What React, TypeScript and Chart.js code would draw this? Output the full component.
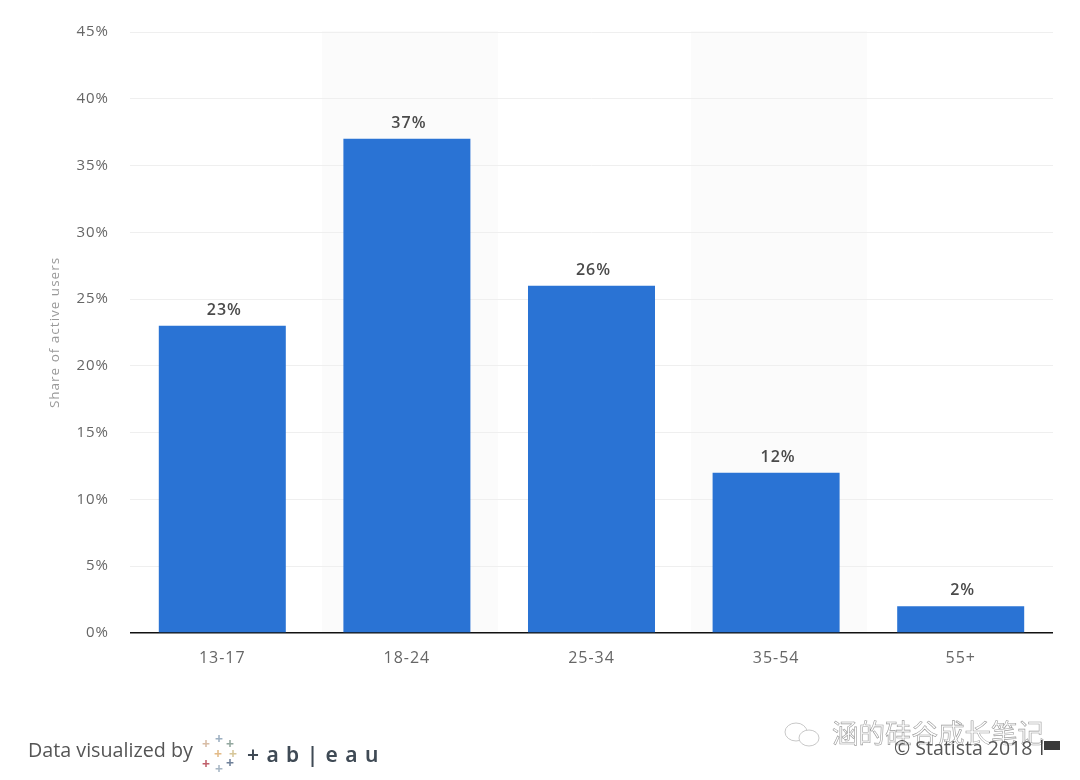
import React, { useEffect, useRef } from "react";
import { Chart, registerables } from "chart.js";

Chart.register(...registerables);

const categories = ["13-17", "18-24", "25-34", "35-54", "55+"];
const shares = [23, 37, 26, 12, 2];
const axisTitle = "Share of active users";
const shadedCategories = ["18-24", "35-54"];
const FONT = '"Open Sans", sans-serif';

const bandPlugin = {
  id: "bands",
  beforeDraw(chart: any) {
    const { ctx, chartArea, scales } = chart;
    (ctx as any).letterSpacing = "1px";
    ctx.save();
    ctx.fillStyle = "#fbfbfb";
    shadedCategories.forEach((c) => {
      const mid = scales.x.getPixelForValue(categories.indexOf(c));
      ctx.fillRect(mid - 85, chartArea.top - 1, 176, chartArea.bottom - chartArea.top + 1);
    });
    ctx.restore();
  },
};

const labelPlugin = {
  id: "valueLabels",
  afterDatasetsDraw(chart: any) {
    const { ctx } = chart;
    const meta = chart.getDatasetMeta(0);
    ctx.save();
    ctx.font = `600 16px ${FONT}`;
    ctx.fillStyle = "#4a4a4a";
    ctx.textAlign = "center";
    ctx.textBaseline = "alphabetic";
    meta.data.forEach((bar: any, i: number) => {
      ctx.fillText(`${shares[i]}%`, bar.x + 2, bar.y - 11);
    });
    ctx.restore();
  },
};

export default function App() {
  const ref = useRef<HTMLCanvasElement>(null);
  useEffect(() => {
    document.body.style.margin = "0";
    document.body.style.background = "#fff";
    const chart = new Chart(ref.current!, {
      type: "bar",
      data: {
        labels: categories,
        datasets: [
          {
            data: shares,
            backgroundColor: "#2a73d4",
            categoryPercentage: 0.688,
            barPercentage: 1,
          },
        ],
      },
      plugins: [bandPlugin, labelPlugin],
      options: {
        animation: false,
        responsive: false,
        layout: { padding: { top: 32, right: 27, bottom: 0, left: 0 } },
        plugins: { legend: { display: false }, tooltip: { enabled: false } },
        scales: {
          x: {
            grid: { display: false },
            border: { display: false },
            ticks: { color: "#666", font: { family: FONT, size: 16 }, padding: 8, maxRotation: 0 },
            afterFit(s: any) {
              s.height = 147;
            },
          },
          y: {
            min: 0,
            max: 45,
            grid: {
              color: (c: any) => (c.tick.value === 0 ? "#111" : "#efefef"),
              lineWidth: (c: any) => (c.tick.value === 0 ? 1.5 : 1),
              drawTicks: false,
            },
            border: { display: false },
            ticks: {
              stepSize: 5,
              padding: 21,
              color: "#666",
              font: { family: FONT, size: 15 },
              callback: (v: any) => `${v}%`,
            },
            title: {
              display: true,
              text: axisTitle,
              color: "#999",
              font: { family: FONT, size: 13.5 },
              padding: { top: 47, bottom: 0 },
            },
            afterFit(s: any) {
              s.width = 130;
            },
          },
        },
      },
    });
    return () => chart.destroy();
  }, []);

  const plusColors = ["#d8bda6", "#9db0c2", "#93a89f", "#e3bb88", "#c0606b", "#a7b6c4", "#6f8099", "#d6c699"];
  const plusPos = [
    [6, 7], [19, 2], [30, 7], [18, 17], [6, 27], [19, 32], [30, 26], [33, 17],
  ];

  return (
    <div style={{ position: "relative", width: 1080, height: 780, overflow: "hidden", fontFamily: FONT }}>
      <canvas ref={ref} width={1080} height={780} style={{ display: "block" }} />
      <div style={{ position: "absolute", left: 28, top: 737, fontSize: 19.7, color: "#555", lineHeight: "26px", whiteSpace: "nowrap" }}>
        Data visualized by
      </div>
      <div style={{ position: "absolute", left: 200, top: 736, width: 40, height: 40 }}>
        {plusPos.map((p, i) => (
          <span
            key={i}
            style={{
              position: "absolute",
              left: p[0] - 4,
              top: p[1] - 6,
              fontSize: 14,
              fontWeight: 700,
              lineHeight: "14px",
              color: plusColors[i],
            }}
          >
            +
          </span>
        ))}
      </div>
      <div
        style={{
          position: "absolute",
          left: 247,
          top: 739,
          fontSize: 21,
          fontWeight: 600,
          letterSpacing: 7.4,
          color: "#3f4a55",
          lineHeight: "30px",
          fontFamily: '"Noto Sans", sans-serif',
          whiteSpace: "nowrap",
        }}
      >
        +ab|eau
      </div>
      <svg style={{ position: "absolute", left: 783, top: 718 }} width="42" height="34" viewBox="0 0 42 34" fill="none" stroke="#c8c8c8" strokeWidth="1">
        <ellipse cx="13" cy="14" rx="11" ry="9" />
        <ellipse cx="26" cy="20" rx="10" ry="8" fill="#fff" />
      </svg>
      <div
        style={{
          position: "absolute",
          left: 832,
          top: 715,
          fontSize: 26.5,
          lineHeight: "34px",
          color: "#fff",
          fontFamily: '"Noto Sans CJK SC", sans-serif',
          WebkitTextStroke: "0.6px #9a9a9a",
          whiteSpace: "nowrap",
        }}
      >
        涵的硅谷成长笔记
      </div>
      <div style={{ position: "absolute", left: 894, top: 736, fontSize: 19.5, lineHeight: "24px", color: "#555", whiteSpace: "nowrap" }}>
        © Statista 2018
      </div>
      <svg style={{ position: "absolute", left: 1041, top: 740 }} width="20" height="16" viewBox="0 0 20 16">
        <rect x="0" y="0" width="1.5" height="15" fill="#444" />
        <rect x="3" y="1" width="16" height="9" fill="#3a3a3a" />
      </svg>
    </div>
  );
}
